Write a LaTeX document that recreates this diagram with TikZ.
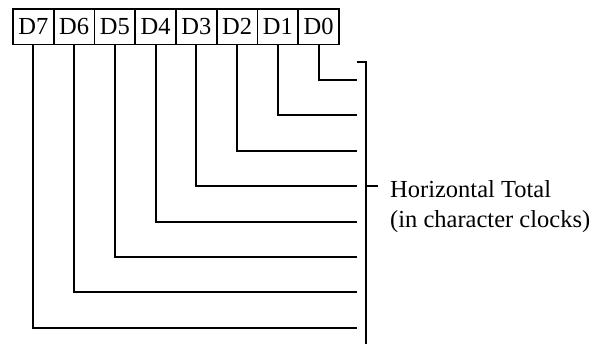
\documentclass[tikz,border=0pt]{standalone}
\usepackage{fontspec}
\setmainfont{Liberation Serif}
\begin{document}
\begin{tikzpicture}[x=1pt,y=-1pt,
  bitbox/.style={draw, rectangle, line width=1.8pt, minimum width=40.75pt, minimum height=35.5pt, inner sep=0pt, font=\fontsize{24.5}{30}\selectfont},
  wire/.style={line width=2pt},
  label/.style={anchor=base west, inner sep=0pt, align=left, font=\fontsize{24.5}{30}\selectfont}]
\useasboundingbox (0,0) rectangle (599,343);
\foreach \i in {0,...,7} {
  \pgfmathsetmacro\xx{13+(7-\i+0.5)*40.75}
  \pgfmathsetmacro\yy{80+\i*35.4}
  \node[bitbox] (d\i) at (\xx,26.75) {D\i};
  \coordinate (e\i) at (357,\yy);
}
\foreach \i in {0,...,7} {
  \draw[wire] (d\i.south) |- (e\i);
}
\coordinate (btop) at (357,62);
\coordinate (bcorner) at (366,62);
\coordinate (bbottom) at (366,345);
\coordinate (tickA) at (366,186);
\coordinate (tickB) at (378,186);
\draw[wire] (btop) -- (bcorner) -- (bbottom);
\draw[wire] (tickA) -- (tickB);
\node[label] (ht) at (390,227) {Horizontal Total\\(in character clocks)};
\end{tikzpicture}
\end{document}
